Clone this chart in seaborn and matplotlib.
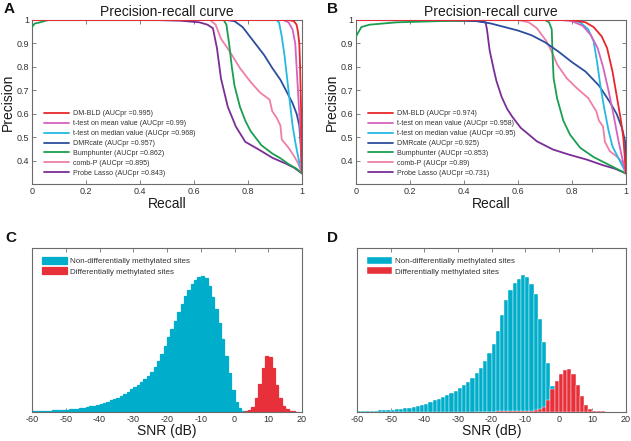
import numpy as np
import pandas as pd
import matplotlib
matplotlib.use("Agg")
import matplotlib.pyplot as plt
import matplotlib.ticker as mticker
import seaborn as sns

sns.set_theme(style="white")
plt.rcParams['font.family'] = ['Liberation Sans', 'DejaVu Sans']

# ---------------- data: precision-recall curves (recall, precision) ----------------
methods = ["DM-BLD", "t-test on mean value", "t-test on median value", "DMRcate",
           "Bumphunter", "comb-P", "Probe Lasso"]
colors = ["#E8262B", "#D563BE", "#25B9E2", "#2B4E9E", "#1B9E52", "#EE7EA9", "#7A2E95"]
auc_A = ["0.995", "0.99", "0.968", "0.957", "0.862", "0.895", "0.843"]
auc_B = ["0.974", "0.958", "0.95", "0.925", "0.853", "0.89", "0.731"]

A_DMBLD = [(0, 1), (0.95, 1), (0.97, 0.995), (0.98, 0.98), (0.985, 0.95), (0.99, 0.9),
           (0.993, 0.8), (0.995, 0.7), (0.997, 0.6), (0.998, 0.5), (1.0, 0.35)]
A_TMEAN = [(0, 1), (0.93, 1), (0.95, 0.99), (0.965, 0.96), (0.975, 0.9), (0.98, 0.8),
           (0.985, 0.7), (0.99, 0.6), (0.995, 0.5), (1.0, 0.35)]
A_TMED = [(0, 1), (0.905, 1), (0.915, 0.99), (0.925, 0.93), (0.935, 0.85), (0.945, 0.75),
          (0.955, 0.65), (0.965, 0.55), (0.975, 0.48), (0.985, 0.42), (0.995, 0.37), (1.0, 0.35)]
A_DMRCATE = [(0, 1), (0.72, 1), (0.75, 0.995), (0.78, 0.97), (0.8, 0.94), (0.83, 0.895),
             (0.86, 0.85), (0.89, 0.795), (0.92, 0.745), (0.945, 0.69), (0.965, 0.645),
             (0.98, 0.6), (0.99, 0.55), (0.995, 0.47), (1.0, 0.35)]
A_BUMP = [(0, 0.97), (0.01, 0.985), (0.03, 0.99), (0.06, 1.0), (0.71, 1), (0.72, 0.98),
          (0.73, 0.9), (0.74, 0.8), (0.75, 0.72), (0.77, 0.63), (0.79, 0.57), (0.81, 0.525),
          (0.85, 0.465), (0.89, 0.43), (0.92, 0.41), (0.95, 0.385), (0.98, 0.365), (1.0, 0.345)]
A_COMBP = [(0, 1), (0.66, 1), (0.68, 0.98), (0.7, 0.92), (0.73, 0.87), (0.77, 0.795),
           (0.81, 0.735), (0.845, 0.69), (0.88, 0.66), (0.89, 0.61), (0.905, 0.585),
           (0.92, 0.55), (0.925, 0.49), (0.95, 0.455), (0.97, 0.42), (0.985, 0.39), (1.0, 0.345)]
A_LASSO = [(0, 1), (0.45, 1), (0.55, 0.997), (0.62, 0.99), (0.65, 0.98), (0.67, 0.965),
           (0.685, 0.88), (0.7, 0.75), (0.725, 0.63), (0.755, 0.545), (0.79, 0.48),
           (0.84, 0.447), (0.89, 0.412), (0.94, 0.387), (0.97, 0.37), (1.0, 0.345)]

B_DMBLD = [(0, 1), (0.8, 1), (0.85, 0.99), (0.88, 0.97), (0.91, 0.93), (0.93, 0.88),
           (0.95, 0.78), (0.965, 0.68), (0.98, 0.58), (0.99, 0.5), (1.0, 0.345)]
B_TMEAN = [(0, 1), (0.76, 1), (0.8, 0.995), (0.84, 0.975), (0.87, 0.935), (0.895, 0.88),
           (0.915, 0.8), (0.935, 0.7), (0.953, 0.6), (0.972, 0.485), (0.99, 0.39), (1.0, 0.345)]
B_TMED = [(0, 1), (0.8, 1), (0.83, 0.99), (0.86, 0.96), (0.88, 0.91), (0.893, 0.82),
          (0.905, 0.72), (0.92, 0.62), (0.935, 0.53), (0.95, 0.46), (0.97, 0.415),
          (0.99, 0.37), (1.0, 0.345)]
B_DMRCATE = [(0, 1), (0.4, 1), (0.45, 0.995), (0.5, 0.985), (0.55, 0.97), (0.6, 0.955),
             (0.65, 0.935), (0.7, 0.905), (0.75, 0.865), (0.8, 0.82), (0.85, 0.78),
             (0.9, 0.72), (0.94, 0.65), (0.965, 0.6), (0.985, 0.54), (0.997, 0.48), (1.0, 0.345)]
B_BUMP = [(0, 0.93), (0.005, 0.94), (0.02, 0.97), (0.05, 0.98), (0.15, 0.99), (0.3, 0.995),
          (0.5, 1), (0.7, 1), (0.715, 0.99), (0.725, 0.96), (0.728, 0.85), (0.732, 0.75),
          (0.745, 0.665), (0.768, 0.57), (0.793, 0.51), (0.83, 0.455), (0.88, 0.415),
          (0.94, 0.38), (1.0, 0.345)]
B_COMBP = [(0, 1), (0.6, 1), (0.64, 0.99), (0.67, 0.965), (0.705, 0.91), (0.725, 0.865),
           (0.745, 0.81), (0.78, 0.752), (0.817, 0.71), (0.86, 0.667), (0.89, 0.61),
           (0.9, 0.57), (0.915, 0.545), (0.922, 0.48), (0.94, 0.44), (0.965, 0.418),
           (0.985, 0.395), (1.0, 0.345)]
B_LASSO = [(0, 1), (0.3, 0.998), (0.45, 0.995), (0.48, 0.99), (0.485, 0.96), (0.495, 0.87),
           (0.51, 0.79), (0.52, 0.74), (0.54, 0.67), (0.56, 0.62), (0.58, 0.585), (0.61, 0.54),
           (0.67, 0.482), (0.73, 0.447), (0.79, 0.425), (0.855, 0.404), (0.915, 0.38),
           (0.96, 0.365), (1.0, 0.345)]

curves_A = [A_DMBLD, A_TMEAN, A_TMED, A_DMRCATE, A_BUMP, A_COMBP, A_LASSO]
curves_B = [B_DMBLD, B_TMEAN, B_TMED, B_DMRCATE, B_BUMP, B_COMBP, B_LASSO]

pr_xticks = [0, 0.2, 0.4, 0.6, 0.8, 1]
pr_yticks = [0.4, 0.5, 0.6, 0.7, 0.8, 0.9, 1]

# ---------------- data: SNR histograms (relative heights) ----------------
C_bin_width = 1.0
C_cyan_start = -60.0
C_cyan = [1.0, 1.1, 1.2, 1.3, 1.4, 1.5, 1.7, 1.9, 2.1, 2.3,
          2.5, 2.8, 3.1, 3.5, 3.9, 4.4, 5.0, 5.6, 6.3, 7.3,
          8.2, 9.2, 10.3, 11.6, 13, 14.5, 16.3, 18.3, 20.5, 22.8,
          25, 27.5, 30, 33, 36.5, 40.5, 45.5, 51, 58, 66,
          75, 83, 91, 100, 108, 116, 122, 128, 132, 135,
          136, 134, 126, 115, 103, 89, 73, 56, 39, 22,
          10, 4, 1]
C_red_start = 2.0
C_red = [0.5, 0.8, 2, 5, 14, 28, 44, 56, 55, 44, 27, 14, 6, 3, 1.5, 0.8, 0.4]

D_bin_width = 1.25
D_cyan_start = -60.0
D_cyan = [1.0, 1.1, 1.2, 1.3, 1.5, 1.6, 1.8, 2.1, 2.4, 2.8,
          3.3, 3.8, 4.5, 5.4, 6.3, 7.3, 8.5, 10.2, 11.8, 13.3,
          14.8, 16.6, 19, 21.5, 24, 27, 30.5, 34.5, 39, 44,
          51, 59, 68, 81, 97, 112, 122, 129, 133, 137,
          135, 128, 118, 93, 70, 49, 26, 9, 2]
D_red_start = -25.0
D_red = [0.4, 0.4, 0.5, 0.5, 0.5, 0.6, 0.6, 0.7, 0.7, 0.8, 0.9, 1.0, 1.2, 1.5, 2, 3, 5,
         12, 23, 31, 38, 42, 43, 38, 27, 16, 7, 3, 1.5, 1, 0.7, 0.4]

hist_labels = ["Non-differentially methylated sites", "Differentially methylated sites"]
hist_colors = ["#00AECB", "#E8303A"]
snr_xticks = [-60, -50, -40, -30, -20, -10, 0, 10, 20]

# ---------------- figure ----------------
W, H = 631, 441
fig = plt.figure(figsize=(W / 100, H / 100), dpi=100)


def ax_px(x0, y0, x1, y1):
    return fig.add_axes([x0 / W, 1 - y1 / H, (x1 - x0) / W, (y1 - y0) / H])


frame_col = "#6b6b6b"
tick_col = "#333333"


def style_axes(ax):
    for s in ax.spines.values():
        s.set_color(frame_col)
        s.set_linewidth(0.8)
        s.set_visible(True)
    ax.tick_params(direction="in", length=3, width=0.6, colors=frame_col,
                   labelcolor=tick_col, labelsize=6.5, pad=2)


def pr_panel(ax, curves, aucs):
    handles = []
    for i, (pts, name, col, auc) in enumerate(zip(curves, methods, colors, aucs)):
        df = pd.DataFrame(pts, columns=["recall", "precision"])
        sns.lineplot(data=df, x="recall", y="precision", sort=False, estimator=None,
                     color=col, linewidth=1.3, ax=ax, legend=False)
        line = ax.lines[-1]
        line.set_zorder(10 - i)
        line.set_label(f"{name} (AUCpr ={auc})")
        handles.append(line)
    ax.set_xlim(0, 1)
    ax.set_ylim(0.3, 1)
    ax.set_xticks(pr_xticks)
    ax.set_yticks(pr_yticks)
    fmt = mticker.FuncFormatter(lambda v, p: f"{v:g}")
    ax.xaxis.set_major_formatter(fmt)
    ax.yaxis.set_major_formatter(fmt)
    style_axes(ax)
    ax.tick_params(top=True, right=True, bottom=True, left=True)
    ax.set_title("Precision-recall curve", fontsize=10, pad=3, color="#1a1a1a")
    ax.set_xlabel("Recall", fontsize=10, labelpad=1, color="#1a1a1a")
    ax.set_ylabel("Precision", fontsize=10, color="#1a1a1a")
    ax.yaxis.set_label_coords(-0.064, 0.5)
    leg = ax.legend(handles=handles, loc="lower left", bbox_to_anchor=(0.018, 0.0),
                    frameon=False, fontsize=5.1, handlelength=3.6, handletextpad=0.5,
                    labelspacing=0.42, borderaxespad=0.6)
    for t in leg.get_texts():
        t.set_color("#333333")


def hist_panel(ax, cyan, cyan_start, red, red_start, width, edgecols, lw):
    for vals, start, col, lab, ec in [(cyan, cyan_start, hist_colors[0], hist_labels[0], edgecols[0]),
                                      (red, red_start, hist_colors[1], hist_labels[1], edgecols[1])]:
        n = len(vals)
        centers = start + width * (np.arange(n) + 0.5)
        df = pd.DataFrame({"snr": centers, "h": vals})
        sns.histplot(data=df, x="snr", weights="h", binwidth=width,
                     binrange=(start, start + n * width), color=col, alpha=1,
                     edgecolor=ec, linewidth=lw, label=lab, ax=ax)
    ax.set_xlim(-60, 20)
    ax.set_ylim(0, 164)
    ax.set_xticks(snr_xticks)
    ax.xaxis.set_major_formatter(mticker.FuncFormatter(lambda v, p: f"{v:g}"))
    ax.set_yticks([])
    ax.set_ylabel("")
    style_axes(ax)
    ax.tick_params(top=True, bottom=True, left=False, right=False)
    ax.set_xlabel("SNR (dB)", fontsize=10, labelpad=0, color="#1a1a1a")
    leg = ax.legend(loc="upper left", bbox_to_anchor=(0.012, 0.985), frameon=False,
                    fontsize=5.8, handlelength=3.2, handleheight=1.0, handletextpad=0.3,
                    labelspacing=0.25, borderaxespad=0.4)
    for t in leg.get_texts():
        t.set_color("#333333")


axA = ax_px(32, 20, 302, 184)
axB = ax_px(356, 20, 626, 184)
axC = ax_px(32, 248, 302, 412)
axD = ax_px(357, 248, 626, 412)

pr_panel(axA, curves_A, auc_A)
pr_panel(axB, curves_B, auc_B)
hist_panel(axC, C_cyan, C_cyan_start, C_red, C_red_start, C_bin_width,
           (hist_colors[0], hist_colors[1]), 0.9)
hist_panel(axD, D_cyan, D_cyan_start, D_red, D_red_start, D_bin_width,
           ("white", "white"), 0.3)

for lab, x, y in [("A", 4, 9), ("B", 327, 9), ("C", 5, 238), ("D", 327, 238)]:
    fig.text(x / W, 1 - y / H, lab, fontsize=11, fontweight="bold", va="center",
             ha="left", color="#111111")

fig.savefig("out.png", dpi=100)
